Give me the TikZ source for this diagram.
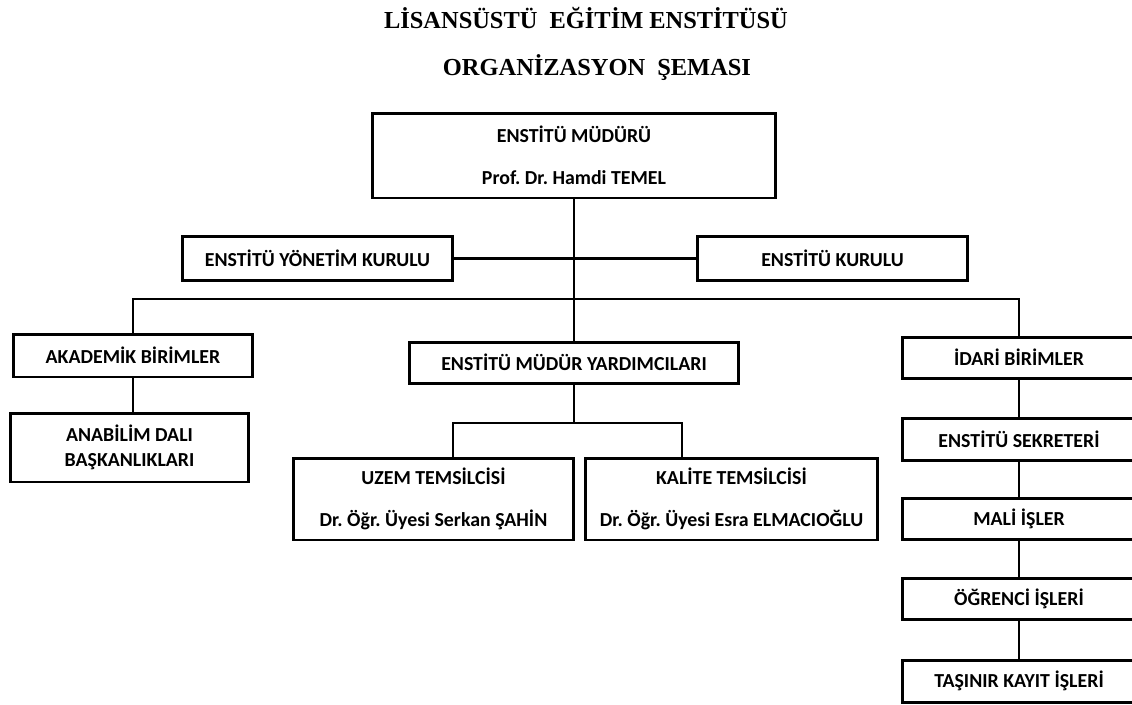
\documentclass[tikz,border=0pt]{standalone}
\usepackage{fontspec}
\setmainfont{Liberation Serif}
\newfontfamily\calibri{Carlito}
\usepackage{tikz}
\frenchspacing

\begin{document}
\begin{tikzpicture}[x=0.02cm, y=-0.02cm,
    box/.style={draw, line width=1.7pt, inner sep=0pt, align=center,
        font=\calibri\bfseries\fontsize{11.3}{14}\selectfont},
    wire/.style={line width=1.5pt}]
    \clip (0, 0) rectangle (1132, 704);

    \node[anchor=base, font=\bfseries\fontsize{13.9}{16}\selectfont] (T1) at (586, 28) {LİSANSÜSTÜ\ \ EĞİTİM ENSTİTÜSÜ};
    \node[anchor=base, font=\bfseries\fontsize{13.9}{16}\selectfont] (T2) at (597, 75) {ORGANİZASYON\ \ ŞEMASI};

    \node[box, minimum width=8.06cm, minimum height=1.7cm] (MUD) at (574, 155.5) {ENSTİTÜ MÜDÜRÜ\\[10pt]Prof. Dr. Hamdi TEMEL};
    \node[box, minimum width=5.42cm, minimum height=0.88cm] (YON) at (317.5, 258.5) {ENSTİTÜ YÖNETİM KURULU};
    \node[box, minimum width=5.42cm, minimum height=0.88cm] (KUR) at (832.5, 258.5) {ENSTİTÜ KURULU};

    \node[box, minimum width=4.8cm, minimum height=0.86cm] (AKA) at (133, 355.5) {AKADEMİK BİRİMLER};
    \node[box, minimum width=4.78cm, minimum height=1.38cm] (ANA) at (129.5, 447.5) {ANABİLİM DALI\\BAŞKANLIKLARI};

    \node[box, minimum width=6.6cm, minimum height=0.82cm] (YRD) at (574, 362.5) {ENSTİTÜ MÜDÜR YARDIMCILARI};
    \node[box, minimum width=5.62cm, minimum height=1.64cm] (UZM) at (433.5, 499) {UZEM TEMSİLCİSİ\\[10pt]Dr. Öğr. Üyesi Serkan ŞAHİN};
    \node[box, minimum width=5.86cm, minimum height=1.64cm] (KAL) at (731.5, 499) {KALİTE TEMSİLCİSİ\\[10pt]Dr. Öğr. Üyesi Esra ELMACIOĞLU};

    \node[box, minimum width=4.68cm, minimum height=0.82cm] (IDA) at (1019, 357.5) {İDARİ BİRİMLER};
    \node[box, minimum width=4.68cm, minimum height=0.84cm] (SEK) at (1019, 439) {ENSTİTÜ SEKRETERİ};
    \node[box, minimum width=4.68cm, minimum height=0.82cm] (MAL) at (1019, 518.5) {MALİ İŞLER};
    \node[box, minimum width=4.68cm, minimum height=0.82cm] (OGR) at (1019, 598.5) {ÖĞRENCİ İŞLERİ};
    \node[box, minimum width=4.68cm, minimum height=0.84cm] (TAS) at (1019, 681) {TAŞINIR KAYIT İŞLERİ};

    \coordinate (BUS) at (574, 299);
    \coordinate (SUB) at (574, 423);

    \draw[wire] (MUD.south) -- (YRD.north);
    \draw[wire] (YON.east) -- (KUR.west);
    \draw[wire] (AKA.north) |- (BUS) -| (IDA.north);
    \draw[wire] (AKA.south) -- (AKA.south |- ANA.north);
    \draw[wire] (YRD.south) -- (SUB);
    \draw[wire] ([xshift=0.39cm]UZM.north) |- (SUB) -| ([xshift=-0.99cm]KAL.north);
    \draw[wire] (IDA.south) -- (SEK.north);
    \draw[wire] (SEK.south) -- (MAL.north);
    \draw[wire] (MAL.south) -- (OGR.north);
    \draw[wire] (OGR.south) -- (TAS.north);
\end{tikzpicture}
\end{document}
